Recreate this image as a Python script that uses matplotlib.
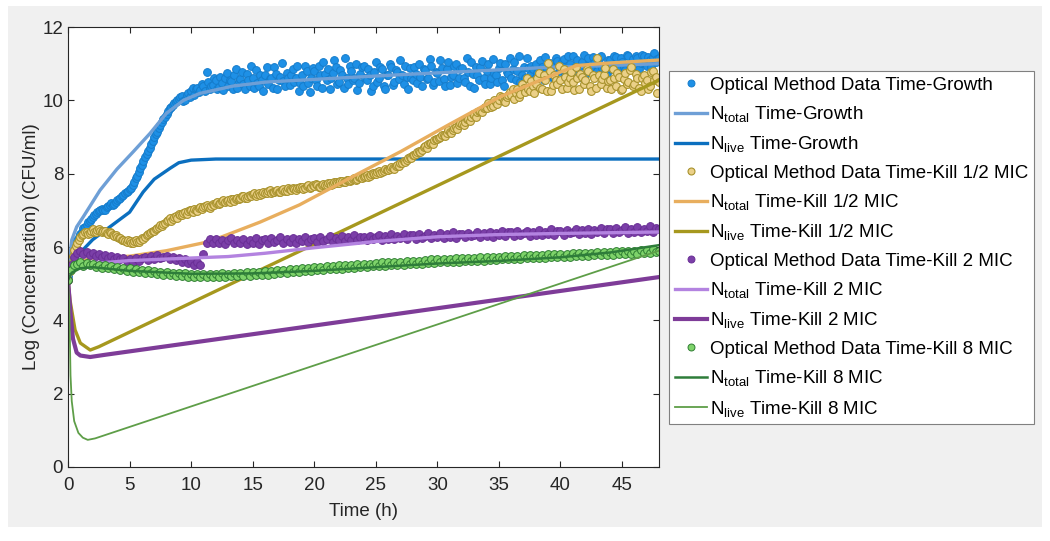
import numpy as np
import matplotlib
matplotlib.use('Agg')
from matplotlib import pyplot as plt
from matplotlib.patches import Rectangle

plt.rcParams['font.family'] = ['Liberation Sans', 'DejaVu Sans']
plt.rcParams['mathtext.fontset'] = 'custom'
plt.rcParams['mathtext.rm'] = 'Liberation Sans'
plt.rcParams['mathtext.it'] = 'Liberation Sans:italic'

# sampling times of the optical data (h)
t_fine = np.arange(0, 48.01, 0.125)
t_data = np.arange(0, 48.01, 0.25)

growth_data = [
    5.20, 5.40, 5.60, 5.78, 5.92, 6.05, 6.18, 6.26, 6.35, 6.42, 6.52, 6.55, 6.60, 6.68, 6.72, 6.76,
    6.82, 6.88, 6.90, 6.95, 6.98, 7.02, 7.05, 7.00, 7.02, 7.08, 7.12, 7.15, 7.20, 7.14, 7.16, 7.22,
    7.28, 7.32, 7.35, 7.40, 7.42, 7.46, 7.50, 7.52, 7.58, 7.62, 7.70, 7.78, 7.88, 7.95, 8.05, 8.15,
    8.25, 8.35, 8.45, 8.55, 8.62, 8.70, 8.80, 8.90, 9.00, 9.08, 9.15, 9.25, 9.32, 9.42, 9.50, 9.55,
    9.62, 9.70, 9.78, 9.82, 9.88, 9.92, 9.95, 10.00, 10.05, 10.10, 10.12, 9.98, 10.02, 10.15, 10.20, 10.10,
    10.25, 10.35, 10.15, 10.30, 10.35, 10.22, 10.28, 10.45, 10.40, 10.25, 10.78, 10.50, 10.30, 10.38, 10.42, 10.60,
    10.55, 10.30, 10.36, 10.65, 10.48, 10.28, 10.62, 10.75, 10.40, 10.55, 10.52, 10.32, 10.70, 10.85, 10.35, 10.50,
    10.58, 10.78, 10.45, 10.30, 10.72, 10.55, 10.40, 10.95, 10.60, 10.35, 10.82, 10.48, 10.38, 10.68, 10.55, 10.25,
    10.70, 10.90, 10.45, 10.58, 10.60, 10.35, 10.90, 10.72, 10.30, 10.55, 10.65, 11.02, 10.52, 10.40, 10.75, 10.62,
    10.42, 10.70, 10.85, 10.50, 10.60, 10.95, 10.25, 10.48, 10.70, 10.38, 10.95, 10.80, 10.48, 10.22, 10.62, 10.88,
    10.80, 10.55, 10.40, 10.95, 10.68, 10.35, 11.05, 10.72, 10.55, 10.85, 10.30, 10.60, 10.75, 11.10, 10.90, 10.45,
    10.50, 10.82, 10.68, 10.35, 11.15, 10.62, 10.45, 10.95, 10.80, 10.55, 10.60, 11.00, 10.28, 10.48, 10.72, 10.90,
    10.95, 10.60, 10.55, 10.85, 10.70, 10.25, 10.40, 10.78, 11.05, 10.50, 10.62, 10.92, 10.85, 10.38, 10.30, 10.68,
    10.68, 11.00, 10.90, 10.42, 10.50, 10.82, 10.78, 10.58, 11.10, 10.70, 10.45, 10.95, 10.65, 10.32, 10.88, 10.60,
    10.55, 10.92, 10.72, 10.48, 11.00, 10.65, 10.40, 10.85, 10.82, 10.58, 10.60, 11.12, 10.95, 10.42, 10.50, 10.78,
    10.75, 10.52, 11.10, 10.88, 10.58, 10.38, 10.85, 11.05, 10.42, 10.65, 10.70, 10.95, 11.00, 10.48, 10.62, 10.85,
    10.88, 10.60, 10.50, 11.15, 10.78, 10.40, 11.05, 10.72, 10.35, 10.90, 10.68, 10.55, 10.92, 11.08, 10.60, 10.45,
    10.80, 10.98, 10.45, 10.62, 11.12, 10.75, 10.70, 10.50, 10.88, 11.02, 10.55, 10.40, 10.98, 10.78, 10.72, 11.15,
    10.62, 10.85, 11.05, 10.55, 10.80, 11.20, 10.50, 10.70, 10.92, 10.62, 11.15, 10.88, 10.68, 10.95, 10.85, 10.58,
    11.00, 10.75, 10.65, 11.10, 10.90, 10.55, 11.18, 10.85, 10.72, 11.02, 10.95, 10.62, 10.60, 11.15, 11.08, 10.80,
    10.85, 11.05, 11.12, 10.68, 10.70, 11.22, 10.98, 10.75, 11.20, 10.88, 10.78, 11.10, 10.92, 10.65, 11.05, 11.25,
    10.68, 10.95, 11.15, 10.82, 10.90, 11.18, 11.02, 10.70, 10.80, 11.12, 11.22, 10.88, 10.95, 10.72, 10.75, 11.10,
    11.10, 10.85, 10.88, 11.20, 11.18, 10.78, 10.92, 11.15, 11.05, 10.90, 10.82, 11.25, 11.20, 10.95, 11.00, 11.12,
    10.90, 11.20, 11.15, 10.85, 11.02, 11.25, 11.22, 10.98, 10.95, 11.18, 11.10, 10.92, 11.18, 11.28, 11.05, 11.12,
    11.15]

half_data = [
    5.10, 5.35, 5.55, 5.75, 5.92, 6.02, 6.12, 6.20, 6.28, 6.32, 6.35, 6.40, 6.42, 6.36, 6.38, 6.44,
    6.48, 6.40, 6.42, 6.46, 6.50, 6.44, 6.40, 6.45, 6.43, 6.38, 6.36, 6.41, 6.38, 6.32, 6.30, 6.34,
    6.28, 6.25, 6.24, 6.20, 6.20, 6.16, 6.14, 6.18, 6.16, 6.12, 6.12, 6.16, 6.18, 6.14, 6.15, 6.20,
    6.24, 6.22, 6.28, 6.32, 6.35, 6.38, 6.40, 6.44, 6.45, 6.50, 6.52, 6.55, 6.60, 6.56, 6.62, 6.66,
    6.70, 6.74, 6.78, 6.72, 6.76, 6.82, 6.85, 6.80, 6.90, 6.86, 6.88, 6.94, 6.95, 6.90, 6.98, 7.02,
    7.00, 6.96, 7.05, 7.02, 6.98, 7.06, 7.08, 7.04, 7.10, 7.12, 7.14, 7.08, 7.06, 7.12, 7.18, 7.15,
    7.20, 7.24, 7.16, 7.20, 7.25, 7.28, 7.22, 7.26, 7.28, 7.24, 7.32, 7.30, 7.26, 7.32, 7.35, 7.30,
    7.35, 7.38, 7.40, 7.34, 7.33, 7.40, 7.42, 7.38, 7.45, 7.48, 7.40, 7.44, 7.48, 7.42, 7.44, 7.50,
    7.48, 7.46, 7.52, 7.55, 7.46, 7.50, 7.50, 7.54, 7.55, 7.50, 7.50, 7.56, 7.58, 7.52, 7.54, 7.60,
    7.58, 7.55, 7.62, 7.58, 7.56, 7.62, 7.60, 7.65, 7.64, 7.58, 7.60, 7.66, 7.68, 7.62, 7.63, 7.68,
    7.66, 7.72, 7.70, 7.65, 7.65, 7.70, 7.72, 7.68, 7.70, 7.74, 7.75, 7.70, 7.72, 7.76, 7.78, 7.74,
    7.75, 7.80, 7.80, 7.76, 7.78, 7.82, 7.84, 7.80, 7.82, 7.86, 7.88, 7.84, 7.85, 7.90, 7.92, 7.88,
    7.90, 7.94, 7.96, 7.92, 7.94, 7.98, 8.02, 7.98, 8.00, 8.04, 8.06, 8.02, 8.04, 8.08, 8.12, 8.10,
    8.10, 8.14, 8.18, 8.15, 8.14, 8.20, 8.24, 8.22, 8.28, 8.30, 8.34, 8.32, 8.36, 8.42, 8.45, 8.44,
    8.50, 8.52, 8.55, 8.60, 8.62, 8.58, 8.66, 8.72, 8.75, 8.70, 8.80, 8.84, 8.85, 8.82, 8.92, 8.95,
    8.95, 8.98, 9.00, 9.06, 9.05, 9.02, 9.12, 9.18, 9.15, 9.12, 9.20, 9.26, 9.28, 9.22, 9.32, 9.38,
    9.35, 9.32, 9.42, 9.48, 9.48, 9.44, 9.55, 9.62, 9.60, 9.56, 9.68, 9.72, 9.72, 9.68, 9.78, 9.82,
    9.80, 9.92, 9.88, 9.82, 9.85, 10.00, 9.95, 9.90, 10.00, 10.12, 10.10, 9.98, 9.95, 10.08, 10.15, 10.22,
    10.15, 10.32, 10.05, 10.20, 10.30, 10.10, 10.18, 10.45, 10.35, 10.22, 10.60, 10.30, 10.25, 10.52, 10.40, 10.20,
    10.45, 10.62, 10.75, 10.35, 10.30, 10.68, 10.55, 10.25, 11.02, 10.80, 10.25, 10.42, 10.70, 10.55, 10.45, 10.95,
    10.55, 10.32, 10.85, 10.65, 10.35, 10.50, 10.60, 10.78, 10.50, 10.28, 10.90, 10.62, 10.30, 10.72, 10.65, 10.45,
    10.55, 10.85, 10.80, 10.40, 10.25, 10.68, 10.60, 10.35, 11.15, 10.70, 10.45, 10.58, 10.70, 10.88, 10.35, 10.52,
    10.55, 10.30, 10.85, 10.62, 10.40, 10.75, 10.65, 10.28, 10.30, 10.58, 10.75, 10.45, 10.50, 10.82, 10.90, 10.38,
    10.45, 10.72, 10.60, 10.35, 10.25, 10.62, 10.70, 10.48, 10.55, 10.30, 10.40, 10.78, 10.80, 10.55, 10.65, 10.20,
    10.50]

two_data = [
    5.10, 5.50, 5.72, 5.84, 5.88, 5.80, 5.86, 5.78,
    5.84, 5.76, 5.81, 5.72, 5.78, 5.70, 5.76, 5.68,
    5.73, 5.66, 5.71, 5.62, 5.68, 5.60, 5.70, 5.62,
    5.70, 5.74, 5.64, 5.76, 5.68, 5.78, 5.70, 5.74,
    5.76, 5.68, 5.74, 5.64, 5.70, 5.60, 5.66, 5.56,
    5.62, 5.52, 5.58, 5.50, 5.80, 6.10, 6.22, 6.12,
    6.22, 6.10, 6.20, 6.08, 6.18, 6.24, 6.10, 6.20,
    6.12, 6.23, 6.08, 6.19, 6.12, 6.24, 6.09, 6.18,
    6.22, 6.10, 6.24, 6.13, 6.20, 6.26, 6.11, 6.21,
    6.14, 6.25, 6.12, 6.22, 6.16, 6.27, 6.13, 6.23,
    6.24, 6.14, 6.26, 6.17, 6.22, 6.30, 6.15, 6.25,
    6.18, 6.30, 6.16, 6.26, 6.20, 6.32, 6.18, 6.27,
    6.28, 6.18, 6.30, 6.21, 6.27, 6.34, 6.19, 6.30,
    6.22, 6.35, 6.21, 6.31, 6.24, 6.36, 6.22, 6.33,
    6.32, 6.22, 6.35, 6.25, 6.31, 6.38, 6.24, 6.34,
    6.26, 6.38, 6.24, 6.35, 6.28, 6.40, 6.25, 6.36,
    6.36, 6.26, 6.39, 6.29, 6.34, 6.41, 6.27, 6.38,
    6.30, 6.42, 6.28, 6.38, 6.32, 6.44, 6.29, 6.40,
    6.40, 6.30, 6.43, 6.33, 6.38, 6.45, 6.31, 6.42,
    6.34, 6.46, 6.32, 6.42, 6.36, 6.48, 6.33, 6.44,
    6.44, 6.34, 6.47, 6.37, 6.42, 6.50, 6.35, 6.46,
    6.38, 6.50, 6.36, 6.46, 6.40, 6.52, 6.37, 6.48,
    6.48, 6.38, 6.51, 6.41, 6.46, 6.54, 6.39, 6.50,
    6.42, 6.54, 6.40, 6.50, 6.44, 6.56, 6.42, 6.52,
    6.50]

eight_data = [
    5.10, 5.36, 5.50, 5.54, 5.58, 5.48, 5.56, 5.50,
    5.54, 5.46, 5.52, 5.44, 5.50, 5.42, 5.48, 5.40,
    5.46, 5.38, 5.44, 5.35, 5.42, 5.33, 5.40, 5.32,
    5.38, 5.30, 5.36, 5.28, 5.34, 5.26, 5.33, 5.25,
    5.32, 5.24, 5.30, 5.21, 5.29, 5.20, 5.28, 5.19,
    5.27, 5.18, 5.26, 5.17, 5.27, 5.18, 5.26, 5.19,
    5.27, 5.18, 5.28, 5.19, 5.27, 5.20, 5.29, 5.21,
    5.30, 5.21, 5.31, 5.22, 5.32, 5.23, 5.33, 5.24,
    5.34, 5.25, 5.35, 5.27, 5.37, 5.28, 5.38, 5.30,
    5.40, 5.31, 5.41, 5.33, 5.42, 5.34, 5.44, 5.35,
    5.45, 5.36, 5.46, 5.38, 5.47, 5.39, 5.49, 5.40,
    5.50, 5.41, 5.51, 5.43, 5.52, 5.44, 5.54, 5.45,
    5.54, 5.46, 5.55, 5.47, 5.56, 5.48, 5.58, 5.49,
    5.58, 5.50, 5.59, 5.51, 5.60, 5.52, 5.62, 5.53,
    5.62, 5.54, 5.63, 5.55, 5.64, 5.56, 5.66, 5.57,
    5.66, 5.58, 5.67, 5.59, 5.68, 5.60, 5.69, 5.60,
    5.69, 5.61, 5.70, 5.62, 5.71, 5.63, 5.72, 5.63,
    5.72, 5.64, 5.73, 5.65, 5.74, 5.66, 5.75, 5.66,
    5.75, 5.67, 5.76, 5.68, 5.77, 5.69, 5.78, 5.69,
    5.78, 5.70, 5.79, 5.71, 5.80, 5.72, 5.81, 5.72,
    5.81, 5.73, 5.82, 5.74, 5.83, 5.75, 5.84, 5.75,
    5.84, 5.76, 5.85, 5.77, 5.86, 5.78, 5.87, 5.78,
    5.87, 5.79, 5.88, 5.80, 5.89, 5.81, 5.90, 5.81,
    5.90, 5.82, 5.91, 5.83, 5.92, 5.84, 5.94, 5.86,
    5.90]

# model curves (knots)
ntot_growth_t = [0, 0.1, 0.3, 0.7, 1.25, 2.6, 3.96, 5.3, 6.66, 8, 9.37, 10.7, 13.4, 16.1, 21.5, 27, 33, 39, 44, 48]
ntot_growth = [5.1, 5.6, 6.19, 6.55, 6.83, 7.55, 8.12, 8.6, 9.1, 9.65, 10.0, 10.19, 10.39, 10.5, 10.6, 10.7, 10.8, 10.9, 10.95, 11.0]

nlive_growth_t = [0, 0.3, 1, 2, 3.4, 5, 6.1, 7, 8.3, 9, 10, 12, 48]
nlive_growth = [5.1, 5.45, 5.85, 6.2, 6.55, 6.95, 7.5, 7.85, 8.15, 8.3, 8.37, 8.4, 8.4]

ntot_half_t = [0, 0.5, 1, 2, 5, 8, 11.5, 15.6, 18.8, 23, 27, 31, 35.1, 38, 41.3, 44, 48]
ntot_half = [5.1, 5.45, 5.6, 5.7, 5.75, 5.9, 6.15, 6.68, 7.15, 7.9, 8.6, 9.35, 10.1, 10.5, 10.95, 11.02, 11.1]

nlive_half_t = [0, 0.16, 0.57, 1.0, 1.8, 2.5, 48]
nlive_half = [5.1, 4.55, 3.74, 3.38, 3.19, 3.28, 10.55]

ntot_two_t = [0, 0.3, 1, 2, 5, 10, 13, 16, 20, 25, 30, 35, 40, 48]
ntot_two = [5.1, 5.35, 5.48, 5.55, 5.63, 5.7, 5.74, 5.83, 5.98, 6.15, 6.28, 6.34, 6.37, 6.41]

nlive_two_t = [0, 0.2, 0.4, 0.7, 1.0, 1.8, 3, 15.6, 48]
nlive_two = [5.1, 4.2, 3.5, 3.12, 3.04, 3.0, 3.06, 3.65, 5.18]

ntot_eight_t = [0, 0.3, 1, 2, 5, 10, 15, 20, 25, 30, 35, 40, 44, 48]
ntot_eight = [5.1, 5.3, 5.42, 5.45, 5.35, 5.27, 5.28, 5.35, 5.45, 5.55, 5.62, 5.72, 5.85, 6.05]

nlive_eight_t = [0, 0.1, 0.2, 0.3, 0.5, 0.84, 1.2, 1.6, 2.2, 48]
nlive_eight = [5.1, 4.5, 2.5, 1.8, 1.25, 0.93, 0.8, 0.74, 0.78, 5.9]

fs = 13.5
fig = plt.figure(figsize=(10.5, 5.41), dpi=100)
fig.patches.append(Rectangle((0.0076, 0.0259), 0.9848, 0.9631, transform=fig.transFigure,
                             facecolor='#f0f0f0', edgecolor='none', zorder=-10))
ax = fig.add_axes([0.0648, 0.1368, 0.5628, 0.8132])

ms = 5.6
ax.plot(t_fine, growth_data, 'o', ls='none', ms=ms, mfc='#1E90E6', mec='#157CCB', mew=0.7,
        label='Optical Method Data Time-Growth')
ax.plot(ntot_growth_t, ntot_growth, c='#6E9FD6', lw=2.4, label=r'N$_{\rm total}$ Time-Growth')
ax.plot(nlive_growth_t, nlive_growth, c='#0B6FBF', lw=2.4, label=r'N$_{\rm live}$ Time-Growth')

ax.plot(t_fine, half_data, 'o', ls='none', ms=ms, mfc='#EBD088', mec='#A8922C', mew=0.8,
        label='Optical Method Data Time-Kill 1/2 MIC')
ax.plot(ntot_half_t, ntot_half, c='#E8AE5E', lw=2.4, label=r'N$_{\rm total}$ Time-Kill 1/2 MIC')
ax.plot(nlive_half_t, nlive_half, c='#A6981E', lw=2.4, label=r'N$_{\rm live}$ Time-Kill 1/2 MIC')

ax.plot(t_data, two_data, 'o', ls='none', ms=ms, mfc='#7B3FA8', mec='#692E95', mew=0.7,
        label='Optical Method Data Time-Kill 2 MIC')
ax.plot(ntot_two_t, ntot_two, c='#B383E0', lw=2.4, label=r'N$_{\rm total}$ Time-Kill 2 MIC')
ax.plot(nlive_two_t, nlive_two, c='#7E3C98', lw=3.0, label=r'N$_{\rm live}$ Time-Kill 2 MIC')

ax.plot(t_data, eight_data, 'o', ls='none', ms=ms, mfc='#7ED36A', mec='#2E7D32', mew=0.7,
        label='Optical Method Data Time-Kill 8 MIC')
ax.plot(ntot_eight_t, ntot_eight, c='#2E7D3A', lw=1.8, label=r'N$_{\rm total}$ Time-Kill 8 MIC')
ax.plot(nlive_eight_t, nlive_eight, c='#5E9E48', lw=1.3, label=r'N$_{\rm live}$ Time-Kill 8 MIC')

ax.set_xlim(0, 48)
ax.set_ylim(0, 12)
ax.set_xticks(range(0, 46, 5))
ax.set_yticks(range(0, 13, 2))
ax.tick_params(direction='in', top=True, right=True, labelsize=fs, colors='#262626',
               length=4, width=0.8)
ax.tick_params(axis='x', pad=7.5)
for s in ax.spines.values():
    s.set_color('#262626')
    s.set_linewidth(0.8)
ax.set_xlabel('Time (h)', fontsize=fs, color='#262626', labelpad=6)
ax.set_ylabel('Log (Concentration) (CFU/ml)', fontsize=fs, color='#262626', labelpad=2)

leg = fig.legend(loc='upper left', bbox_to_anchor=(669 / 1050, 1 - 71 / 541), fontsize=fs,
                 frameon=True, fancybox=False, edgecolor='#808080', facecolor='white',
                 framealpha=1, handlelength=1.75, handletextpad=0.15, borderpad=0.3,
                 labelspacing=0.55, borderaxespad=0)
leg.get_frame().set_linewidth(0.8)
for h in leg.legend_handles:
    if h.get_marker() == 'o':
        h.set_markersize(5)

fig.savefig('out.png', dpi=100)
